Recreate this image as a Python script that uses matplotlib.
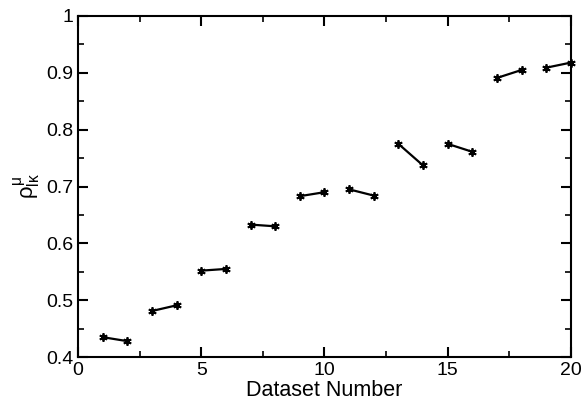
import matplotlib
matplotlib.use("Agg")
import matplotlib.pyplot as plt
from matplotlib.ticker import MultipleLocator

plt.rcParams['font.family'] = ['Liberation Sans', 'DejaVu Sans']
plt.rcParams['mathtext.fontset'] = 'custom'
plt.rcParams['mathtext.rm'] = 'Liberation Sans'
plt.rcParams['mathtext.it'] = 'Liberation Sans'

dataset = [1, 2, 3, 4, 5, 6, 7, 8, 9, 10, 11, 12, 13, 14, 15, 16, 17, 18, 19, 20]
rho = [0.435, 0.428, 0.481, 0.491, 0.552, 0.555, 0.633, 0.630, 0.683, 0.690,
       0.695, 0.684, 0.775, 0.737, 0.775, 0.761, 0.891, 0.905, 0.909, 0.918]

fig = plt.figure(figsize=(5.82, 4.09), dpi=100)
ax = fig.add_axes([0.134, 0.127, 0.847, 0.834])

for i in range(0, len(dataset), 2):
    ax.plot(dataset[i:i+2], rho[i:i+2], color='black', lw=1.6, marker=(6, 2, 0),
            markersize=6, markeredgewidth=1.3, clip_on=False)

ax.set_xlim(0, 20)
ax.set_ylim(0.4, 1.0)
ax.xaxis.set_major_locator(MultipleLocator(5))
ax.xaxis.set_minor_locator(MultipleLocator(2.5))
ax.yaxis.set_major_locator(MultipleLocator(0.1))
ax.yaxis.set_minor_locator(MultipleLocator(0.05))
ax.tick_params(which='both', direction='in', top=True, right=True, labelsize=14)
ax.tick_params(which='major', length=7, width=1.5)
ax.tick_params(which='minor', length=4, width=1.2)
ax.set_xticks([0, 5, 10, 15, 20])
ax.set_xticklabels(['0', '5', '10', '15', '20'])
ax.set_yticks([0.4, 0.5, 0.6, 0.7, 0.8, 0.9, 1.0])
ax.set_yticklabels(['0.4', '0.5', '0.6', '0.7', '0.8', '0.9', '1'])
for s in ax.spines.values():
    s.set_linewidth(1.5)

ax.set_xlabel('Dataset Number', fontsize=15.5, labelpad=1)
ax.set_ylabel(r'$\rho^{\mu}_{l\kappa}$', fontsize=16, labelpad=2)

fig.savefig('out.png', dpi=100)
